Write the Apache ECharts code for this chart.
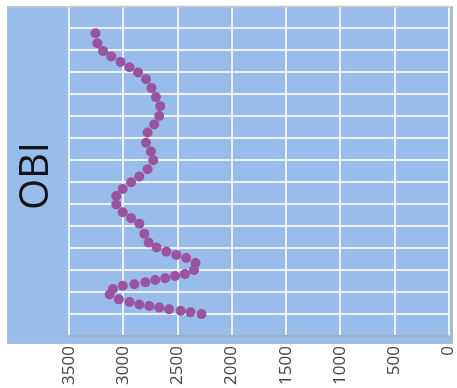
<!DOCTYPE html>
<html>
<head>
<meta charset="utf-8">
<script src="https://cdn.jsdelivr.net/npm/echarts@6/dist/echarts.min.js"></script>
<style>
html, body { margin: 0; padding: 0; background: #fff; }
#chart { width: 457px; height: 388px; }
</style>
</head>
<body>
<div id="chart"></div>
<script>
// OBI values, listed from the top of the plot down to the bottom
var obiValues = [3256, 3238, 3186, 3110, 3025, 2942, 2863, 2790, 2739, 2698,
    2659, 2668, 2714, 2775, 2790, 2744, 2723, 2775, 2851, 2927,
    3004, 3064, 3064, 3004, 2927, 2851, 2805, 2766, 2693, 2602,
    2510, 2419, 2333, 2348, 2431, 2522, 2613, 2705, 2796, 2897,
    3004, 3095, 3125, 3040, 2942, 2851, 2760, 2668, 2577, 2470,
    2379, 2278];
// vertical position of each point (grid rows)
var rowPos = [13.76, 13.31, 12.95, 12.71, 12.46, 12.22, 11.98, 11.67, 11.27, 10.86,
    10.45, 10.00, 9.62, 9.25, 8.79, 8.39, 7.99, 7.58, 7.25, 6.99,
    6.69, 6.37, 5.98, 5.63, 5.36, 5.11, 4.65, 4.25, 4.03, 3.84,
    3.69, 3.55, 3.32, 3.00, 2.82, 2.73, 2.63, 2.55, 2.45, 2.36,
    2.29, 2.14, 1.89, 1.67, 1.55, 1.44, 1.37, 1.30, 1.22, 1.15,
    1.08, 1.00];
var valueTicks = [0, 500, 1000, 1500, 2000, 2500, 3000, 3500];

var points = obiValues.map(function (v, i) { return [v, rowPos[i]]; });

var myChart = echarts.init(document.getElementById('chart'));
var option = {
    animation: false,
    graphic: [
        {
            type: 'rect',
            z: -10,
            shape: { x: 7.5, y: 6.5, width: 445, height: 337 },
            style: { fill: '#98bdea', stroke: '#b7bcc4', lineWidth: 1 }
        },
        {
            type: 'rect',
            z: 100,
            shape: { x: 7.5, y: 6, width: 445, height: 1.5 },
            style: { fill: '#c4c6ca' }
        }
    ],
    grid: {
        left: 69,
        right: 5,
        top: 6,
        bottom: 44
    },
    xAxis: {
        type: 'value',
        inverse: true,
        min: valueTicks[0],
        max: valueTicks[valueTicks.length - 1],
        interval: 500,
        axisLine: { show: true, lineStyle: { color: '#8c97a6', width: 1.5 } },
        axisTick: { show: false },
        splitLine: { show: true, lineStyle: { color: '#edf2f9', width: 2 } },
        axisLabel: {
            rotate: 90,
            margin: 10,
            color: '#454545',
            fontSize: 17,
            fontFamily: 'Open Sans',
            showMaxLabel: true,
            showMinLabel: true,
            formatter: function (v) { return String(v); }
        }
    },
    yAxis: {
        type: 'value',
        min: 0,
        max: 15,
        interval: 1,
        name: 'OBI',
        nameLocation: 'middle',
        nameGap: 12,
        nameTextStyle: { fontSize: 40, color: '#151515', fontFamily: 'Open Sans', padding: [0, 10, 0, 0] },
        axisLine: { show: false },
        axisTick: { show: false },
        axisLabel: { show: false },
        splitLine: { show: true, lineStyle: { color: '#edf2f9', width: 2 } }
    },
    series: [
        {
            type: 'scatter',
            data: points,
            symbolSize: 10,
            itemStyle: { color: '#9b529f', opacity: 1 }
        }
    ]
};
myChart.setOption(option);
</script>
</body>
</html>
